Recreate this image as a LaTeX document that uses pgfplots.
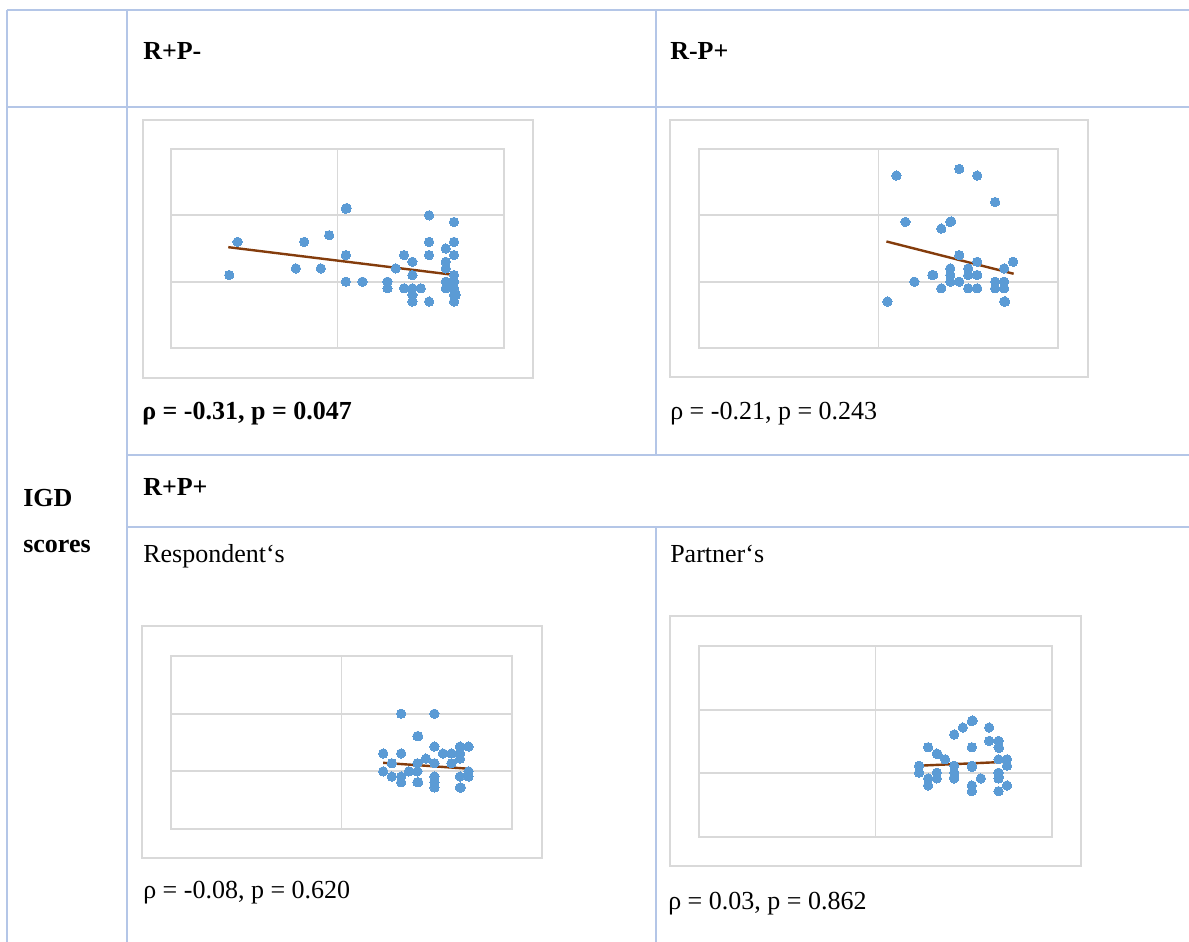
\documentclass[border=0pt]{standalone}
\usepackage{pgfplots}
\pgfplotsset{compat=1.18}
\usepackage{fontspec}
\setmainfont{Liberation Serif}
\definecolor{tblline}{RGB}{180,198,231}
\definecolor{gridgray}{RGB}{217,217,217}
\definecolor{ptblue}{RGB}{91,155,213}
\definecolor{trendbrown}{RGB}{132,60,12}
\pgfplotsset{
  minichart/.style={
    scale only axis, anchor=north west,
    xmin=0, xmax=2, ymin=0, ymax=3,
    xtick={1}, ytick={1,2},
    xticklabels={}, yticklabels={},
    major tick length=0pt, tick style={draw=none},
    grid=major, major grid style={draw=gridgray, line width=1.4pt},
    axis line style={draw=gridgray, line width=1.4pt},
  },
  pts/.style={only marks, mark=*, mark size=3.5pt, mark options={fill=ptblue, draw=ptblue, line width=0pt}},
  trend/.style={no marks, draw=trendbrown, line width=1.8pt},
}
\begin{document}
\begin{tikzpicture}
\begin{scope}[x=0.75pt, y=-0.75pt]
\path[use as bounding box] (0,0) rectangle (1189,942);
\fill[white] (0,0) rectangle (1189,942);
% table lines
\begin{scope}[draw=tblline, line width=1.4pt]
\draw (7,10) -- (1189,10);
\draw (7,107) -- (1189,107);
\draw (127,455) -- (1189,455);
\draw (127,527) -- (1189,527);
\draw (7,10) -- (7,942);
\draw (127,10) -- (127,942);
\draw (656,10) -- (656,455);
\draw (656,527) -- (656,942);
\end{scope}
% chart borders
\begin{scope}[draw=gridgray, line width=1.2pt]
\draw (143,120) rectangle (533,378);
\draw (670,120) rectangle (1088,377);
\draw (142,626) rectangle (542,858);
\draw (670,616) rectangle (1081,866);
\end{scope}
% texts
\begin{scope}[every node/.style={anchor=base west, inner sep=0pt, font=\fontsize{19.5pt}{22pt}\selectfont}]
\node at (143,60) {\bfseries R+P-};
\node at (670,60) {\bfseries R-P+};
\node at (142,419) {\bfseries ρ = -0.31, p = 0.047};
\node at (670,419) {ρ = -0.21, p = 0.243};
\node at (23,506) {\bfseries IGD};
\node at (23,552) {\bfseries scores};
\node at (143,495) {\bfseries R+P+};
\node at (143,562) {Respondent‘s};
\node at (670,562) {Partner‘s};
\node at (143,898) {ρ = -0.08, p = 0.620};
\node at (668,909) {ρ = 0.03, p = 0.862};
\end{scope}
\end{scope}
% Plot 1: R+P-
\begin{axis}[minichart, at={(128.25pt,-111.75pt)}, width=249.75pt, height=149.25pt]
\addplot[pts] table {
x y
0.35 1.1
0.40 1.6
0.75 1.2
0.80 1.6
0.90 1.2
0.95 1.7
1.05 2.1
1.055 2.11
1.05 1.4
1.05 1.0
1.15 1.0
1.30 1.0
1.30 0.9
1.35 1.2
1.40 1.4
1.40 0.9
1.45 1.3
1.45 1.1
1.45 0.9
1.45 0.8
1.45 0.7
1.50 0.9
1.55 2.0
1.55 1.6
1.55 1.4
1.55 0.7
1.65 1.5
1.65 1.3
1.65 1.2
1.65 1.0
1.65 0.9
1.70 1.9
1.70 1.6
1.70 1.4
1.70 1.1
1.70 1.0
1.70 0.9
1.70 0.8
1.70 0.7
1.71 0.8
};
\addplot[trend] coordinates {(0.344,1.52) (1.706,1.10)};
\end{axis}
% Plot 2: R-P+
\begin{axis}[minichart, at={(524.25pt,-111.75pt)}, width=269.25pt, height=149.25pt]
\addplot[pts] table {
x y
1.05 0.7
1.10 2.6
1.15 1.9
1.20 1.0
1.30 1.1
1.305 1.1
1.35 1.8
1.35 0.9
1.40 1.9
1.405 1.91
1.40 1.2
1.40 1.1
1.40 1.0
1.45 2.7
1.45 1.4
1.45 1.0
1.50 1.2
1.50 1.1
1.50 0.9
1.55 2.6
1.55 1.3
1.55 1.1
1.55 0.9
1.65 2.2
1.65 1.0
1.65 0.9
1.70 1.2
1.70 1.0
1.70 0.9
1.70 0.7
1.705 0.7
1.75 1.3
};
\addplot[trend] coordinates {(1.044,1.606) (1.753,1.119)};
\end{axis}
% Plot 3: Respondent's
\begin{axis}[minichart, at={(128.25pt,-492pt)}, width=255.75pt, height=129.75pt]
\addplot[pts] table {
x y
1.245 1.31
1.245 1.00
1.295 1.14
1.295 0.91
1.35 2.00
1.35 1.31
1.35 0.91
1.35 0.81
1.395 1.00
1.445 1.61
1.45 1.61
1.445 1.14
1.445 1.00
1.445 0.81
1.45 0.81
1.495 1.22
1.545 2.00
1.545 1.43
1.545 1.14
1.545 0.91
1.545 0.81
1.545 0.72
1.595 1.31
1.645 1.31
1.645 1.14
1.695 1.43
1.695 1.31
1.695 1.22
1.695 0.91
1.695 0.72
1.70 0.72
1.745 1.43
1.745 1.00
1.745 0.91
};
\addplot[trend] coordinates {(1.244,1.148) (1.752,1.044)};
\end{axis}
% Plot 4: Partner's
\begin{axis}[minichart, at={(524.25pt,-484.5pt)}, width=264.75pt, height=143.25pt]
\addplot[pts] table {
x y
1.247 1.12
1.247 1.01
1.298 1.41
1.298 0.92
1.298 0.81
1.347 1.31
1.352 1.30
1.347 1.01
1.347 0.92
1.394 1.22
1.446 1.61
1.446 1.12
1.446 1.01
1.446 0.92
1.446 0.94
1.495 1.72
1.546 1.82
1.550 1.83
1.546 1.41
1.546 1.12
1.546 1.10
1.546 0.81
1.546 0.72
1.597 0.92
1.644 1.72
1.644 1.51
1.697 1.51
1.697 1.41
1.700 1.40
1.697 1.22
1.697 1.01
1.697 0.92
1.700 0.94
1.697 0.72
1.745 1.22
1.745 1.12
1.745 0.81
};
\addplot[trend] coordinates {(1.247,1.120) (1.754,1.183)};
\end{axis}
\end{tikzpicture}
\end{document}
